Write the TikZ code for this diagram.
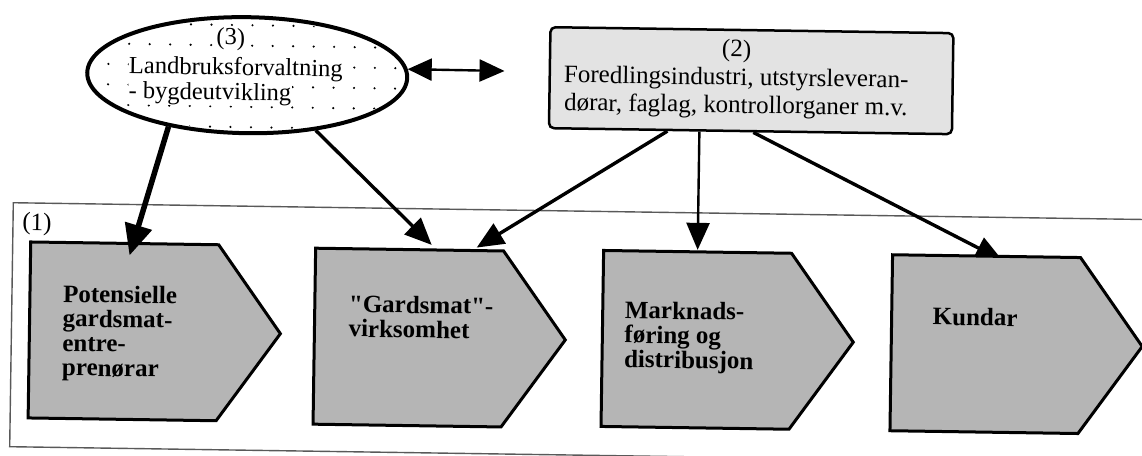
\documentclass[tikz,border=0pt]{standalone}
\usepackage{fontspec}
\setmainfont{Liberation Serif}
\usetikzlibrary{arrows.meta,calc,shapes.geometric}

\tikzset{
  frameline/.style={line width=1.4pt, draw=black!65},
  agency/.style={ellipse, draw=black, line width=4pt, fill=white,
    minimum width=320pt, minimum height=116pt, inner sep=0pt},
  industry/.style={rectangle, draw=black, line width=2.5pt, rounded corners=5pt,
    fill=black!11, minimum width=403pt, minimum height=101pt, inner sep=0pt},
  body/.style={rectangle, anchor=north west, minimum width=188pt,
    minimum height=176pt, inner sep=0pt, outer sep=0pt},
  penta/.style={draw=black, line width=3pt, fill=black!29, line join=miter},
  plain/.style={font=\fontsize{25}{28}\selectfont, inner sep=0pt},
  ovaltext/.style={font=\fontsize{24.5}{28}\selectfont, fill=white, inner sep=0.5pt},
  steptext/.style={font=\fontsize{25}{24.5}\selectfont\bfseries, align=left,
    anchor=north west, inner sep=0pt},
  conn/.style={line width=3.4pt, -{Triangle[length=27pt,width=23pt]}},
  thinconn/.style={line width=2.4pt, -{Triangle[length=27pt,width=23pt]}},
  boldconn/.style={line width=5.5pt, -{Triangle[length=31pt,width=27pt]}},
  twoway/.style={line width=2.4pt,
    {Triangle[length=24pt,width=22pt]}-{Triangle[length=25pt,width=22pt]}},
}

\begin{document}
\begin{tikzpicture}[x=1pt,y=-1pt]
\useasboundingbox (0,0) rectangle (1142,455);
\begin{scope}[rotate around={-0.85:(571,227)}, transform shape]
  % frame of the value chain (1)
  \draw[frameline] (1170,211) -- (13,211) -- (13,455) -- (1170,455);
  \node[plain] (grp) at (37,232) {(1)};

  % (3) public administration, a dotted oval
  \node[agency] (ell) at (245,80) {};
  \begin{scope}
    \clip (ell.center) ellipse [x radius=157pt, y radius=55pt];
    \foreach \i in {0,...,16}
      \foreach \j in {-1,...,6}
        \fill (85.5+20.5*\i, 30+20.4*\j) circle (1.2pt);
  \end{scope}
  \node[ovaltext, anchor=base] (n3) at (228,50) {(3)};
  \node[ovaltext, anchor=base west] (adm) at (126,80) {Landbruksforvaltning};
  \node[ovaltext, anchor=base west] (rur) at (126,105) {- bygdeutvikling};

  % (2) industry and organisations
  \node[industry] (box) at (749,78) {};
  \node[plain, align=center, anchor=north] (boxt) at (734,37)
    {(2)\\Foredlingsindustri, utstyrsleveran-\\dørar, faglag, kontrollorganer m.v.};

  \draw[twoway] (ell.3) -- ($(box.west)+(-44,-6)$);

  % the four steps of the chain
  \node[body] (p1) at (31,250) {};
  \node[body] (p2) at (316,252) {};
  \node[body] (p3) at (604,250) {};
  \node[body] (p4) at (893,250) {};

  % this connector runs behind the outline of the last step
  \draw[conn] ($(box.south)+(3,0)$) -- ($(p4.north west)+(110,4)$);

  \foreach \p in {p1,p2,p3,p4}
    \draw[penta] (\p.north west) -- (\p.north east) -- ($(\p.east)+(63,0)$)
      -- (\p.south east) -- (\p.south west) -- cycle;

  \node[steptext] (t1) at ($(p1.north west)+(33,42)$) {Potensielle\\gardsmat-\\entre-\\prenørar};
  \node[steptext] (t2) at ($(p2.north west)+(34,46)$) {\textquotedbl Gardsmat\textquotedbl-\\virksomhet};
  \node[steptext] (t3) at ($(p3.north west)+(22,50)$) {Marknads-\\føring og\\distribusjon};
  \node[steptext] (t4) at ($(p4.north west)+(41,52)$) {Kundar};

  % connectors into the chain
  \draw[boldconn] (ell.214) -- ($(p1.north west)+(99,12)$);
  \draw[conn] (ell.322) -- ($(p2.north west)+(116,-5)$);
  \draw[conn] ($(box.south)+(-83,0)$) -- ($(p2.north west)+(161,-3)$);
  \draw[thinconn] ($(box.south)+(-51,0)$) -- ($(p3.north west)+(94,-2)$);
\end{scope}
\end{tikzpicture}
\end{document}
